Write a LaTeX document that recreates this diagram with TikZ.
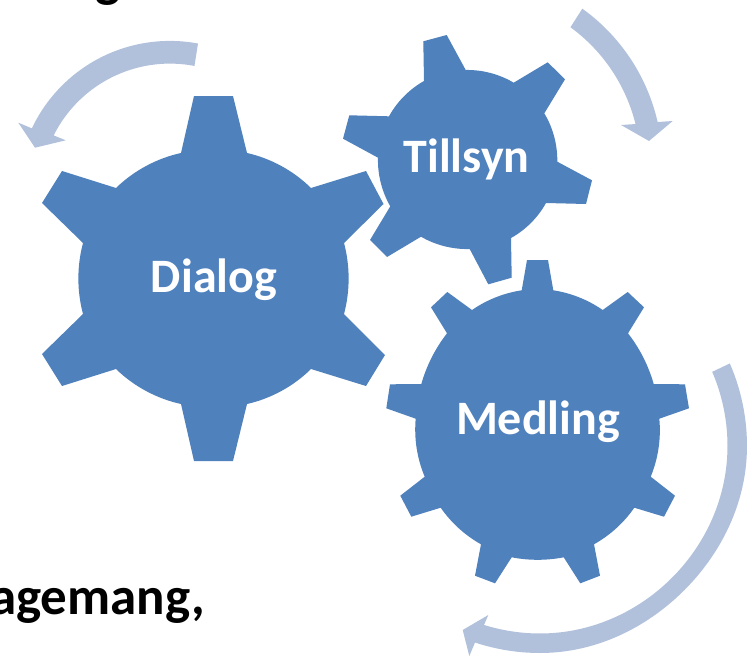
\documentclass[tikz,border=0pt]{standalone}
\usepackage{fontspec}
\setmainfont{Carlito}
\definecolor{gearblue}{HTML}{4F81BD}
\definecolor{arrowblue}{HTML}{B1C1DB}
\tikzset{
  gearfill/.style={fill=gearblue,draw=none},
  arrowfill/.style={fill=arrowblue,draw=none},
  ga/.style={bend left=#1,looseness=.86},
  geartext/.style={text=white,font=\fontsize{48}{54}\selectfont\bfseries,inner sep=0pt,anchor=base},
  bodytext/.style={text=black,font=\fontsize{53}{60}\selectfont\bfseries,inner sep=0pt}
}
\begin{document}
\begin{tikzpicture}[x=1pt,y=-1pt]
\useasboundingbox (0,0) rectangle (755,656);
\clip (0,0) rectangle (755,656);
\fill[white] (0,0) rectangle (755,656);

% Dialog gear
\path[gearfill] (194,96) -- (233,96) -- (247,153) to[ga=16] (311,188)
 -- (366,171) -- (383.5,204) -- (344,243) to[ga=15] (344,314)
 -- (385,355) -- (366,386) -- (311,369) to[ga=16] (247,404)
 -- (233,461) -- (194,461) -- (181,404) to[ga=16] (116,369)
 -- (62,386) -- (42,354) -- (83,314) to[ga=15] (83,243)
 -- (42,203) -- (62,171) -- (116,188) to[ga=16] (181,153) -- cycle;

% Tillsyn gear
\path[gearfill] (423.3,41.3) -- (446.7,35) -- (465.7,70) to[ga=16] (513.7,82.7)
 -- (547.7,62.3) -- (565,79.3) -- (544.3,113.3) to[ga=16] (557.3,161.7)
 -- (592,180.3) -- (586,204) -- (546,203) to[ga=16] (511,238)
 -- (511.7,277.7) -- (488.3,284.3) -- (469.7,249) to[ga=16] (421,236.7)
 -- (387,257) -- (370,240) -- (390.3,206.3) to[ga=16] (378,157.7)
 -- (343,138.7) -- (349.3,115.3) -- (389,116.3) to[ga=16] (424,81) -- cycle;

% Medling gear
\path[gearfill] (527,260) -- (548,260) -- (553.3,290.3) to[ga=13] (602.7,310)
 -- (627.7,292) -- (644,307.3) -- (628,333.3) to[ga=11] (653.7,384)
 -- (685,384.3) -- (689,408.3) -- (659.3,418.7) to[ga=14] (650.7,476.7)
 -- (675,495.7) -- (664,516.7) -- (634.3,507.7) to[ga=13] (594,544.3)
 -- (600,575.7) -- (580.3,583.3) -- (563.7,557.3) to[ga=11] (511.7,557.3)
 -- (495,583.3) -- (475,575.7) -- (481,544.3) to[ga=13] (440.7,507.7)
 -- (411.3,516.7) -- (400.3,495.7) -- (424.7,476.7) to[ga=14] (415.7,418.7)
 -- (386.3,408.3) -- (390,384.3) -- (421.3,384) to[ga=11] (447,333.3)
 -- (431,307.3) -- (447.3,292) -- (472,310) to[ga=13] (521.7,290.3) -- cycle;

% Curved arrows
\path[arrowfill] plot[domain=79.4:154.7,samples=40] ({169.9+152.7*cos(\x)},{193.6-152.7*sin(\x)})
 -- (18.3,122.7) -- (35,147.7) -- (65.7,140.3) -- (52.7,135)
 -- plot[domain=153.6:79.1,samples=40] ({169.9+130*cos(\x)},{193.6-130*sin(\x)}) -- cycle;

\path[arrowfill] plot[domain=54.3:12.9,samples=40] ({470+192.5*cos(\x)},{165-192.5*sin(\x)})
 -- (672.7,121) -- (649,141) -- (621,125) -- (636,124)
 -- plot[domain=13.9:53.9,samples=40] ({470+170.5*cos(\x)},{165-170.5*sin(\x)}) -- cycle;

\path[arrowfill] plot[domain=23.5:-108.3,samples=80]
   ({540+(207-3*min(0,sin(2*\x))*min(0,sin(2*\x)))*cos(\x)},{446-(207-3*min(0,sin(2*\x))*min(0,sin(2*\x)))*sin(\x)})
 -- (469.3,656) -- (462.7,630) -- (488.3,615) -- (483.3,626.7)
 -- plot[domain=-107.4:23.3,samples=80]
   ({540+(187.5-1*min(0,sin(2*\x))*min(0,sin(2*\x)))*cos(\x)},{446-(187.5-1*min(0,sin(2*\x))*min(0,sin(2*\x)))*sin(\x)}) -- cycle;

% Labels
\node[geartext] (dialog) at (214,292) {Dialog};
\node[geartext] (tillsyn) at (466.5,172.7) {Tillsyn};
\node[geartext] (medling) at (538,434) {Medling};
\node[bodytext,anchor=base east] (bottomtext) at (205,614) {agemang,};
\node[bodytext,anchor=base] (toptext) at (108,-4) {g};
\end{tikzpicture}
\end{document}
